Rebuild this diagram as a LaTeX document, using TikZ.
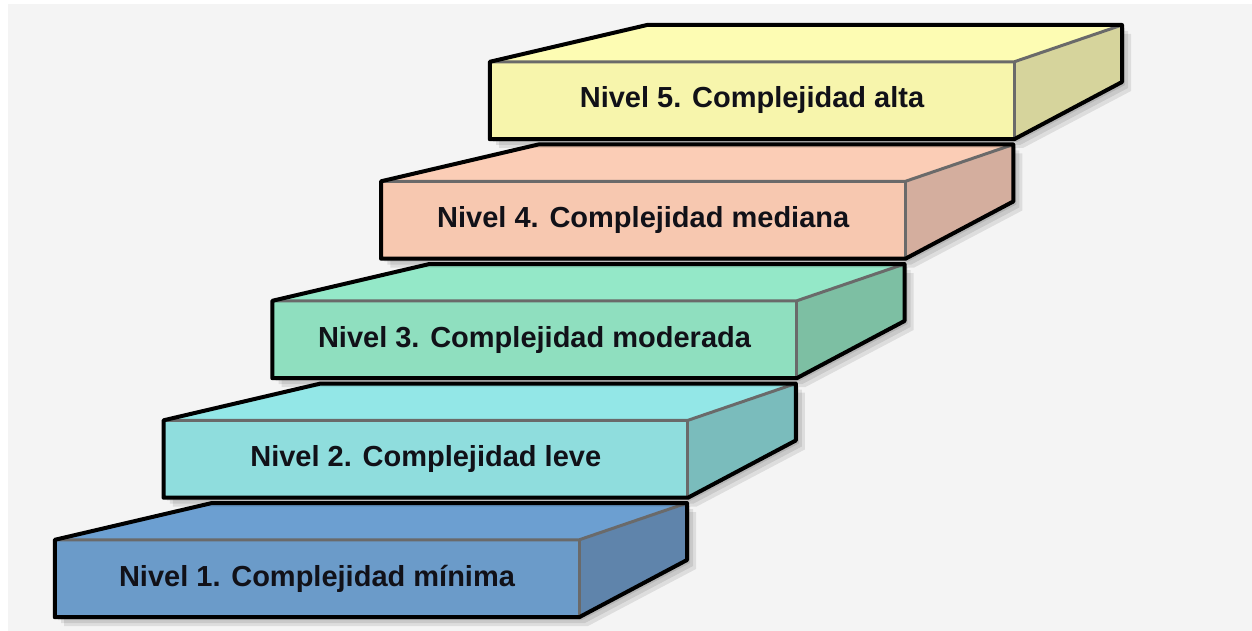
\documentclass[tikz,border=0pt]{standalone}
\usepackage{fontspec}
\setmainfont{Liberation Sans}
\usetikzlibrary{calc}
\definecolor{bgc}{HTML}{F4F4F4}
\definecolor{f1}{HTML}{6B9BC9}\definecolor{t1}{HTML}{6C9FD1}\definecolor{d1}{HTML}{5F84AB}
\definecolor{f2}{HTML}{8FDDDD}\definecolor{t2}{HTML}{93E7E7}\definecolor{d2}{HTML}{7ABCBC}
\definecolor{f3}{HTML}{8FDFBF}\definecolor{t3}{HTML}{94E8C8}\definecolor{d3}{HTML}{7DBFA3}
\definecolor{f4}{HTML}{F7C8B0}\definecolor{t4}{HTML}{FBCDB6}\definecolor{d4}{HTML}{D4AE9E}
\definecolor{f5}{HTML}{F7F5AC}\definecolor{t5}{HTML}{FDFCB3}\definecolor{d5}{HTML}{D6D49C}
\definecolor{txt}{HTML}{111118}
\definecolor{edgegray}{HTML}{6A6A6A}
\tikzset{
  frontface/.style={rectangle, minimum width=524pt, minimum height=77pt, inner sep=0pt,
    font=\fontsize{29}{34}\selectfont\bfseries, text=txt},
  outeredge/.style={draw=black, line width=4pt, line join=round},
  inneredge/.style={draw=edgegray, line width=3pt, line join=round},
  shadowfill/.style={fill=black, opacity=0.09}
}
\newcommand\drawstair[7]{%
  \coordinate (#1ftl) at (#2,#3);
  \coordinate (#1ftr) at (#2+524,#3);
  \coordinate (#1fbr) at (#2+524,#3+77);
  \coordinate (#1btl) at (#2+157,#3-37);
  \coordinate (#1btr) at (#2+632,#3-37);
  \coordinate (#1bbr) at (#2+632,#3+20);
  \foreach \s in {3,6,9}{%
    \fill[shadowfill] (#2+\s,#3+\s) -- (#2+157+\s,#3-37+\s) -- (#2+632+\s,#3-37+\s)
      -- (#2+632+\s,#3+20+\s) -- (#2+524+\s,#3+77+\s) -- (#2+\s,#3+77+\s) -- cycle;}
  \fill[#5] (#1ftl) -- (#1btl) -- (#1btr) -- (#1ftr) -- cycle;
  \fill[#6] (#1ftr) -- (#1btr) -- (#1bbr) -- (#1fbr) -- cycle;
  \node[frontface, fill=#4] (#1) at (#2+262,#3+38.5) {#7};
  \draw[inneredge] (#1.north west) -- (#1.north east) -- (#1btr);
  \draw[inneredge] (#1.north east) -- (#1.south east);
  \draw[outeredge] (#1.north west) -- (#1btl) -- (#1btr) -- (#1bbr) -- (#1.south east) -- (#1.south west) -- cycle;
}
\begin{document}
\begin{tikzpicture}[x=1pt,y=-1pt]
\useasboundingbox (0,0) rectangle (1252,631);
\fill[white] (0,0) rectangle (1252,631);
\fill[bgc] (8,4) rectangle (1252,631);
\drawstair{s1}{55}{540}{f1}{t1}{d1}{Nivel 1. Complejidad mínima}
\drawstair{s2}{163.75}{420.5}{f2}{t2}{d2}{Nivel 2. Complejidad leve}
\drawstair{s3}{272.5}{301}{f3}{t3}{d3}{Nivel 3. Complejidad moderada}
\drawstair{s4}{381.25}{181.5}{f4}{t4}{d4}{Nivel 4. Complejidad mediana}
\drawstair{s5}{490}{62}{f5}{t5}{d5}{Nivel 5. Complejidad alta}
\end{tikzpicture}
\end{document}
